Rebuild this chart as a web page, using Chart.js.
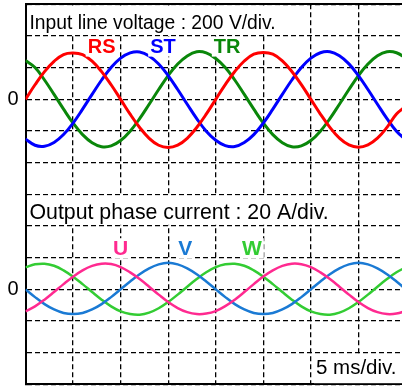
<!DOCTYPE html>
<html>
<head>
<meta charset="utf-8">
<script src="https://cdn.jsdelivr.net/npm/chart.js@4"></script>
<style>
  html, body { margin: 0; padding: 0; background: #fff; overflow: hidden; }
  #wrap { width: 406px; height: 387px; }
</style>
</head>
<body>
<div id="wrap"><canvas id="scope"></canvas></div>
<script>
// time axis, ms (5 ms/div, 8 div)
const timeMs = [];
for (let k = 0; k <= 40; k++) timeMs.push(k);

// input line voltages, V (200 V/div)
const vRS = [0, 92, 175, 240, 283, 292, 282, 241, 175, 92, 0, -94, -178, -246, -290, -304, -289, -246, -178, -94,
             0, 93, 176, 242, 285, 296, 285, 243, 176, 93, 0, -93, -177, -245, -288, -302, -287, -245, -177, -93, -42];
const vST = [-250, -290, -296, -272, -222, -150, -62, 31, 122, 201, 260, 293, 299, 274, 223, 150, 62, -31, -122, -201,
             -258, -292, -298, -273, -223, -150, -62, 31, 122, 201, 260, 294, 300, 275, 224, 150, 62, -31, -122, -201, -256];
const vTR = [245, 201, 122, 31, -62, -150, -223, -274, -299, -294, -260, -201, -122, -31, 62, 150, 223, 274, 300, 293,
             258, 201, 122, 31, -62, -150, -223, -274, -300, -294, -260, -201, -122, -31, 62, 150, 223, 275, 300, 294, 260];

// output phase currents, A (20 A/div)
const iU = [-13.9, -10.7, -6.5, -1.7, 3.3, 8.0, 12.0, 14.8, 16.2, 16.0, 14.1, 10.7, 6.5, 1.7, -3.3, -8.0, -11.8, -14.4, -15.6, -15.3,
            -13.7, -10.6, -6.5, -1.7, 3.3, 8.1, 12.0, 14.8, 16.2, 15.9, 14.0, 10.7, 6.5, 1.7, -3.3, -8.0, -11.8, -14.4, -15.6, -15.3, -13.6];
const iV = [0, -4.9, -9.3, -12.7, -14.9, -15.6, -14.9, -12.7, -9.3, -4.9, 0, 5.0, 9.6, 13.3, 15.8, 16.8, 15.8, 13.3, 9.6, 5.0,
            0, -4.9, -9.3, -12.7, -14.9, -15.6, -14.9, -12.7, -9.3, -4.9, 0, 5.0, 9.6, 13.3, 15.8, 16.8, 15.8, 13.3, 9.6, 5.0, 0];
const iW = [13.9, 15.8, 16.2, 14.9, 12.0, 8.0, 3.3, -1.7, -6.5, -10.7, -13.9, -15.6, -16.0, -14.7, -11.9, -8.0, -3.3, 1.7, 6.5, 10.8,
            14.0, 15.8, 16.2, 14.9, 12.0, 8.0, 3.3, -1.7, -6.5, -10.7, -13.9, -15.6, -16.0, -14.7, -11.9, -8.0, -3.3, 1.7, 6.5, 10.8, 14.0];

// trace labels: [text, time ms, value, color, axis]
const traceLabels = [
  ["RS", 8.0, 333, "#ff0000", "yv"],
  ["ST", 14.45, 333, "#0000ff", "yv"],
  ["TR", 21.2, 333, "#0a870a", "yv"],
  ["U", 10.0, 26, "#ff2a90", "yi"],
  ["V", 16.8, 26, "#1a7ad4", "yi"],
  ["W", 23.8, 26, "#33cc33", "yi"]
];

function pts(ys) {
  return ys.map((y, i) => ({ x: timeMs[i], y: y }));
}

function trace(data, color, axis, w) {
  return {
    data: pts(data),
    yAxisID: axis,
    borderColor: color,
    borderWidth: w,
    pointRadius: 0,
    tension: 0.4,
    fill: false
  };
}

// white boxed texts drawn over the grid
const scopeText = {
  id: "scopeText",
  afterDatasetsDraw(chart) {
    const c = chart.ctx;
    const a = chart.chartArea;
    const row = (a.bottom - a.top) / 12;
    c.save();
    c.textBaseline = "alphabetic";
    c.textAlign = "left";

    // text in a white box that fills one grid row
    function box(txt, x, base, r, size, toEdge) {
      c.font = size + "px 'Liberation Sans', Arial";
      const w = toEdge ? chart.width - x : c.measureText(txt).width + 6;
      c.fillStyle = "#fff";
      c.fillRect(x - 2, a.top + r * row + 1.2, w, row - 2.4);
      c.fillStyle = "#000";
      c.fillText(txt, x, base);
    }
    box("Input line voltage : 200 V/div.", a.left + 4, 28.5, 0, 19.3);
    box("Output phase current : 20 A/div.", a.left + 4, 219.3, 6, 21.3);
    box("5 ms/div.", 316, 374, 11, 20.5, true);

    c.textAlign = "center";
    c.textBaseline = "middle";
    traceLabels.forEach(([txt, t, v, col, ax]) => {
      c.font = "bold " + (ax === "yv" ? 20 : 21) + "px 'Liberation Sans', Arial";
      const x = chart.scales.x.getPixelForValue(t);
      const y = chart.scales[ax].getPixelForValue(v);
      const w = c.measureText(txt).width;
      c.fillStyle = "#fff";
      c.fillRect(x - w / 2 - 2, y - 10, w + 4, 20);
      c.fillStyle = col;
      c.fillText(txt, x, y + 1);
    });
    c.restore();
  }
};

const dash = { display: true, color: "#000", width: 2, dash: [5, 3] };

new Chart(document.getElementById("scope"), {
  type: "line",
  data: {
    datasets: [
      trace(vRS, "#ff0000", "yv", 3),
      trace(vST, "#0000ff", "yv", 3),
      trace(vTR, "#0a870a", "yv", 3),
      trace(iU, "#ff2a90", "yi", 2.5),
      trace(iV, "#1a7ad4", "yi", 2.5),
      trace(iW, "#33cc33", "yi", 2.5)
    ]
  },
  options: {
    responsive: true,
    maintainAspectRatio: false,
    animation: false,
    events: [],
    layout: { padding: { top: 4.3, bottom: 2.6, left: 0, right: 0 } },
    plugins: { legend: { display: false }, tooltip: { enabled: false } },
    scales: {
      x: {
        type: "linear",
        min: 0,
        max: 40,
        ticks: { stepSize: 5, display: false },
        grid: { color: "#000", lineWidth: 1.3, drawTicks: false },
        border: dash,
        afterFit(s) { s.height = 0; }
      },
      xTop: {
        type: "linear",
        position: "top",
        min: 0,
        max: 40,
        ticks: { display: false },
        grid: { display: false, drawTicks: false },
        border: { display: true, color: "#000", width: 2 },
        afterFit(s) { s.height = 0; }
      },
      yv: {
        position: "left",
        min: -1800,
        max: 600,
        ticks: {
          stepSize: 200,
          padding: 7,
          color: "#000",
          font: { family: "'Liberation Sans', Arial", size: 20 },
          // zero of the voltage trace, and -1200 V is where the current axis has its zero
          callback: (v) => (v === 0 || v === -1200 ? "0" : "")
        },
        grid: { color: "#000", lineWidth: 1.3, drawTicks: false },
        border: dash,
        afterFit(s) {
          s.width = 25.5;
          s.paddingTop = 0;
          s.paddingBottom = 0;
        }
      },
      yi: {
        display: false,
        min: -60,
        max: 180
      }
    }
  },
  plugins: [scopeText]
});
</script>
</body>
</html>
